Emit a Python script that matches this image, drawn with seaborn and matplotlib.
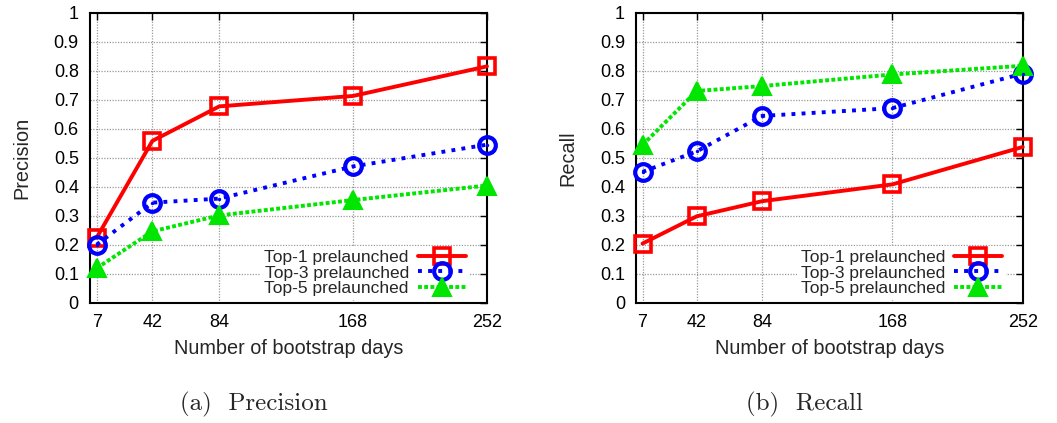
import matplotlib
matplotlib.use("Agg")
import matplotlib.pyplot as plt
import seaborn as sns
import pandas as pd

days = [7, 42, 84, 168, 252]
series_names = ["Top-1 prelaunched", "Top-3 prelaunched", "Top-5 prelaunched"]

precision_top1 = [0.225, 0.559, 0.678, 0.714, 0.816]
precision_top3 = [0.201, 0.346, 0.360, 0.471, 0.546]
precision_top5 = [0.120, 0.247, 0.302, 0.355, 0.405]

recall_top1 = [0.205, 0.299, 0.351, 0.409, 0.538]
recall_top3 = [0.452, 0.523, 0.645, 0.672, 0.791]
recall_top5 = [0.545, 0.731, 0.748, 0.788, 0.818]

y_ticks = [0, 0.1, 0.2, 0.3, 0.4, 0.5, 0.6, 0.7, 0.8, 0.9, 1]
y_tick_labels = ["0", "0.1", "0.2", "0.3", "0.4", "0.5", "0.6", "0.7", "0.8", "0.9", "1"]

sns.set_theme(style="white")
plt.rcParams["font.family"] = ["Liberation Sans", "DejaVu Sans"]

styles = [
    dict(color="#ff0000", marker="s", linestyle="-", lw=2.8, ms=12, mew=2.6,
         mfc="none"),
    dict(color="#0000ff", marker="o", linestyle=(0, (1, 1.6)), lw=2.8, ms=12,
         mew=3.0, mfc="none"),
    dict(color="#00e600", marker="^", linestyle=(0, (1, 0.6)), lw=2.8, ms=13,
         mew=1.5, mfc="#00e600"),
]

fig = plt.figure(figsize=(10.57, 4.23), dpi=100)
ax1 = fig.add_axes([0.0851, 0.2837, 0.3756, 0.6856])
ax2 = fig.add_axes([0.6017, 0.2837, 0.3659, 0.6856])


def draw(ax, vals, ylabel):
    for i, (name, v, st) in enumerate(zip(series_names, vals, styles)):
        df = pd.DataFrame({"days": days, "val": v})
        sns.lineplot(data=df, x="days", y="val", ax=ax, label=name,
                     color=st["color"], marker=st["marker"],
                     linestyle=st["linestyle"], linewidth=st["lw"],
                     markersize=st["ms"], markeredgewidth=st["mew"],
                     markerfacecolor=st["mfc"], markeredgecolor=st["color"],
                     zorder=3, clip_on=False)
        if i == 1:
            sns.scatterplot(data=df, x="days", y="val", ax=ax, color=st["color"],
                            marker="o", s=6, linewidth=0, zorder=4,
                            clip_on=False, legend=False)
    ax.set_xlim(2.8, 252)
    ax.set_ylim(0, 1)
    ax.set_xticks(days)
    ax.set_xticklabels([str(d) for d in days])
    ax.set_yticks(y_ticks)
    ax.set_yticklabels(y_tick_labels)
    ax.grid(True, color="#999999", linestyle=(0, (1, 1.2)), linewidth=0.9)
    ax.set_axisbelow(True)
    for s in ax.spines.values():
        s.set_color("black")
        s.set_linewidth(1.5)
        s.set_visible(True)
        s.set_zorder(2.5)
    ax.tick_params(axis="both", direction="in", length=5, width=1,
                   top=True, right=True, labelsize=13, pad=8, colors="black")
    ax.set_xlabel("Number of bootstrap days", fontsize=14.3, labelpad=6)
    ax.set_ylabel(ylabel, fontsize=14.3, labelpad=16)
    leg = ax.legend(loc="lower right", bbox_to_anchor=(0.965, 0.0),
                    markerfirst=False, frameon=True, fontsize=12.5,
                    handlelength=2.8, labelspacing=0.02, borderpad=0.2,
                    handletextpad=0.5, borderaxespad=0.2, numpoints=1)
    leg.get_frame().set_facecolor("white")
    leg.get_frame().set_edgecolor("none")
    leg.get_frame().set_alpha(1)


draw(ax1, [precision_top1, precision_top3, precision_top5], "Precision")
draw(ax2, [recall_top1, recall_top3, recall_top5], "Recall")

fig.text(0.240, 0.045, "(a)  Precision", ha="center", va="center",
         fontsize=18, family=["cmr10", "DejaVu Serif"])
fig.text(0.761, 0.045, "(b)  Recall", ha="center", va="center",
         fontsize=18, family=["cmr10", "DejaVu Serif"])

fig.savefig("out.png", dpi=100)
